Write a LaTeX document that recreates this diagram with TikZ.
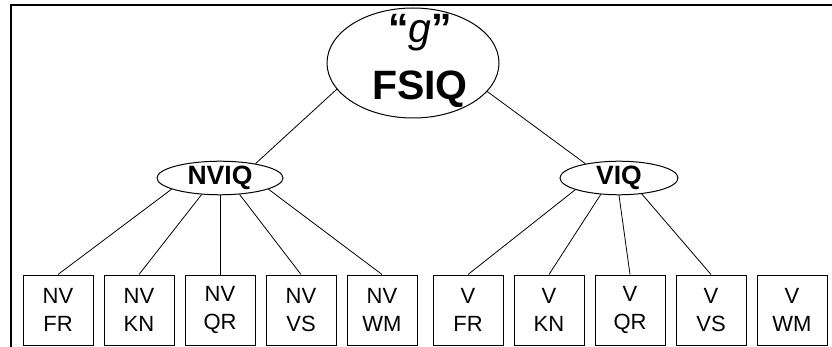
\documentclass[tikz,border=0pt]{standalone}
\usepackage{fontspec}
\setmainfont{Liberation Sans}
\usetikzlibrary{shapes.geometric}
\begin{document}
\begin{tikzpicture}[x=1pt,y=-1pt,
  leaf/.style={draw, line width=1pt, minimum width=70pt, minimum height=70pt,
    inner sep=0pt, align=center, font=\fontsize{22}{28}\selectfont},
  factor/.style={draw, ellipse, line width=1pt, inner sep=0pt, minimum height=27pt,
    font=\bfseries\fontsize{26.5}{30}\selectfont},
  link/.style={line width=0.8pt},
  frame/.style={line width=2pt}]
\useasboundingbox (0,0) rectangle (832,347);
\draw[frame] (11,347) -- (11,5) -- (832,5);
% top factor
\node[draw, ellipse, line width=1pt, minimum width=172pt, minimum height=110pt, inner sep=0pt] (g) at (413,63) {};
\node[align=center, inner sep=0pt, font=\fontsize{41}{57}\selectfont] (gtext) at (420,61)
  {{\bfseries “}\textit{g}{\bfseries ”}\\{\bfseries FSIQ}};
% second level
\node[factor, minimum width=126pt] (nviq) at (220,178) {NVIQ};
\node[factor, minimum width=118pt] (viq) at (619,178) {VIQ};
% leaves
\node[leaf] (nvfr) at (58,310) {NV\\FR};
\node[leaf] (nvkn) at (139,310) {NV\\KN};
\node[leaf] (nvqr) at (220,310) {NV\\QR};
\node[leaf] (nvvs) at (301,310) {NV\\VS};
\node[leaf] (nvwm) at (382,310) {NV\\WM};
\node[leaf] (vfr) at (468,310) {V\\FR};
\node[leaf] (vkn) at (549,310) {V\\KN};
\node[leaf] (vqr) at (630,310) {V\\QR};
\node[leaf] (vvs) at (711,310) {V\\VS};
\node[leaf] (vwm) at (792,310) {V\\WM};
% connectors
\draw[link] (g.199) -- (nviq.22);
\draw[link] (g.339) -- (viq.157);
\draw[link] (nviq.193) -- (nvfr.north);
\draw[link] (nviq.222) -- (nvkn.north);
\draw[link] (nviq.270) -- (nvqr.north);
\draw[link] (nviq.320) -- (nvvs.north);
\draw[link] (nviq.347) -- (nvwm.north);
\draw[link] (viq.195) -- (vfr.north);
\draw[link] (viq.222) -- (vkn.north);
\draw[link] (viq.270) -- (vqr.north);
\draw[link] (viq.325) -- (vvs.north);
\end{tikzpicture}
\end{document}
